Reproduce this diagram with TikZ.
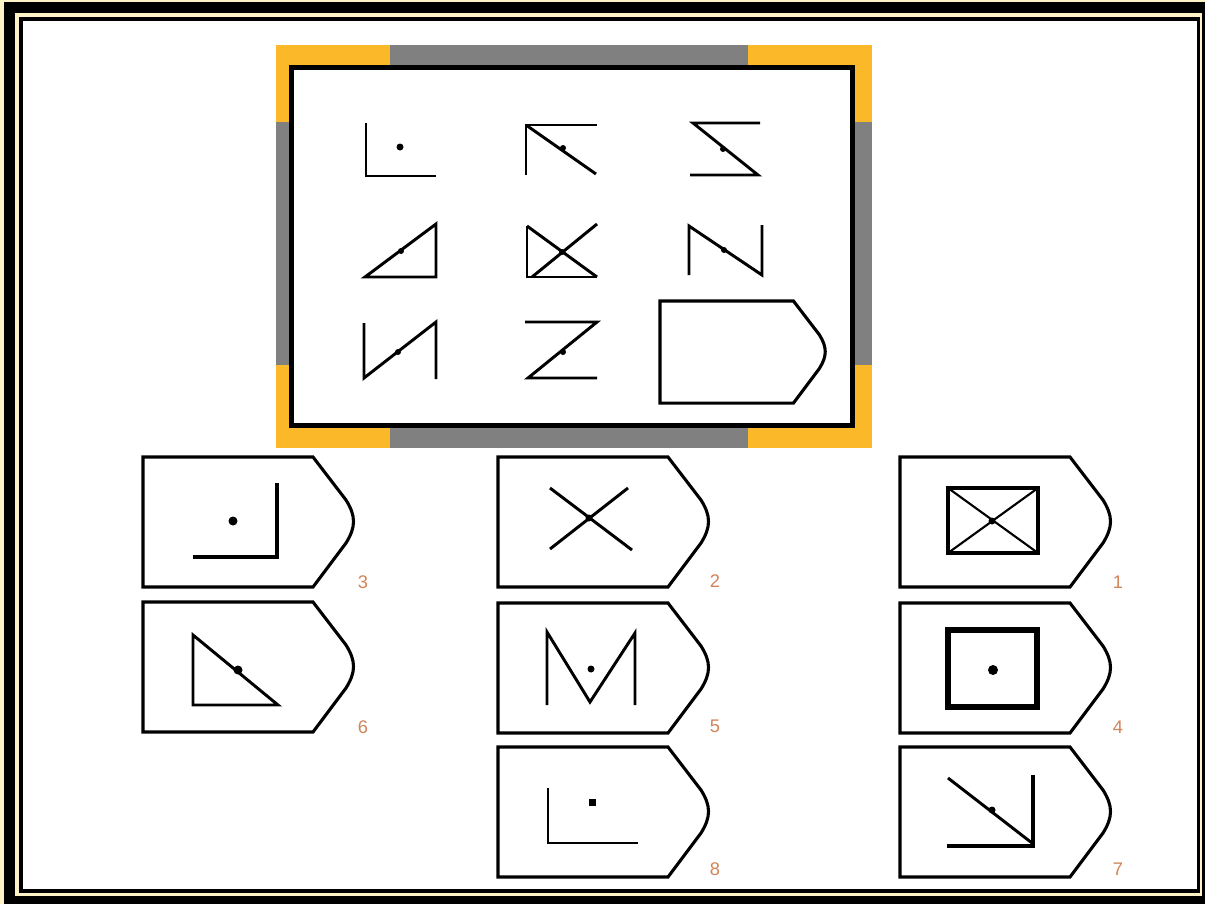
\documentclass[tikz,border=0pt]{standalone}
\usepackage{fontspec}
\setsansfont{Liberation Sans}
\definecolor{cream}{HTML}{FFF2C6}
\definecolor{frameorange}{HTML}{FBB829}
\definecolor{framegray}{HTML}{808080}
\definecolor{numcolor}{HTML}{D2845A}

\begin{document}
\begin{tikzpicture}[
				x=0.025cm,y=-0.025cm,
				figline/.style={line width=2.1pt},
				heavyline/.style={line width=3.4pt},
				thinline/.style={line width=1.5pt},
				cardline/.style={line width=2.2pt},
				num/.style={font=\sffamily\fontsize{13}{13}\selectfont,text=numcolor,inner sep=0pt},
				card/.pic={
					\draw[cardline] (0,0) -- (170,0) -- (203,43)
					.. controls (213,59) and (213,70) .. (203,86)
					-- (170,130) -- (0,130) -- cycle;
				}
				]
				\useasboundingbox (0,0) rectangle (1205,904);
				% outer border
				\fill[cream] (0,0) rectangle (1205,904);
				\fill[black] (4,2) rectangle (1205,904);
				\fill[cream] (15,13) rectangle (1202,896);
				\fill[black] (19,17) rectangle (1200,893);
				\fill[white] (23,21) rectangle (1197,889);
				
				% question panel
				\fill[frameorange] (276,45) rectangle (872,448);
				\fill[framegray] (390,45) rectangle (748,448);
				\fill[framegray] (276,122) rectangle (872,365);
				\fill[white] (291.5,67.5) rectangle (852.5,425.5);
				\draw[line width=3.5pt] (291.5,67.5) rectangle (852.5,425.5);
				
				% row 1
				\draw[figline] (366,123) -- (366,176) -- (436,176);
				\fill (400,147) circle[radius=3.5];
				\draw[figline] (526,175) -- (526,125) -- (597,125);
				\draw[figline] (526,125) -- (596,174);
				\fill (563,148) circle[radius=3];
				\draw[figline] (760,123) -- (693,123) -- (758,175) -- (690,175);
				\fill (723,149) circle[radius=3];
				% row 2
				\draw[figline] (365,277) -- (436,224) -- (436,277) -- cycle;
				\fill (401,251) circle[radius=3];
				\draw[figline] (527,226) -- (527,277) -- (597,277);
				\draw[figline] (527,226) -- (597,277);
				\draw[figline] (597,224) -- (532,277);
				\fill (562,252) circle[radius=3];
				\draw[figline] (689,275) -- (689,226) -- (762,275) -- (762,225);
				\fill (724,250) circle[radius=3];
				% row 3
				\draw[figline] (364,323) -- (364,378) -- (436,322) -- (436,379);
				\fill (398,352) circle[radius=3];
				\draw[figline] (525,322) -- (597,322) -- (528,378) -- (597,378);
				\fill (563,352) circle[radius=3];
				\pic[scale=0.785] at (660,301) {card};
				
				% answer cards
				\pic at (143,457) {card};
				\pic at (143,602) {card};
				\pic at (498,457) {card};
				\pic at (498,603) {card};
				\pic at (498,747) {card};
				\pic at (900,457) {card};
				\pic at (900,603) {card};
				\pic at (900,747) {card};
				
				\node[num] (n3) at (363,582) {3};
				\node[num] (n6) at (363,727) {6};
				\node[num] (n2) at (715,581) {2};
				\node[num] (n5) at (715,726) {5};
				\node[num] (n8) at (715,869) {8};
				\node[num] (n1) at (1118,582) {1};
				\node[num] (n4) at (1118,727) {4};
				\node[num] (n7) at (1118,869) {7};
				
				% card 3
				\draw[heavyline] (193,557) -- (277,557) -- (277,483);
				\fill (233,521) circle[radius=4.5];
				% card 6
				\draw[figline] (193,635) -- (193,705) -- (278,705) -- cycle;
				\fill (238,670) circle[radius=4.5];
				% card 2
				\draw[figline] (550,488) -- (632,550);
				\draw[figline] (628,488) -- (550,549);
				\fill (589,518) circle[radius=3.5];
				% card 5
				\draw[figline] (547,705) -- (547,632) -- (590,702) -- (635,633) -- (635,705);
				\fill (591,669) circle[radius=3.5];
				% card 8
				\draw[figline] (548,788) -- (548,843) -- (638,843);
				\fill (588.5,798.5) rectangle (595.5,805.5);
				% card 1
				\draw[heavyline] (948,488) rectangle (1038,553);
				\draw[thinline] (948,488) -- (1038,553);
				\draw[thinline] (1038,488) -- (948,553);
				\fill (992,521) circle[radius=3.5];
				% card 4
				\draw[line width=4pt] (948,630) rectangle (1037,707);
				\fill (993,670) circle[radius=5];
				% card 7
				\draw[heavyline] (1033,775) -- (1033,846) -- (947,846);
				\draw[figline] (948,778) -- (1032,843);
				\fill (992,810) circle[radius=3.5];
			\end{tikzpicture}
\end{document}
